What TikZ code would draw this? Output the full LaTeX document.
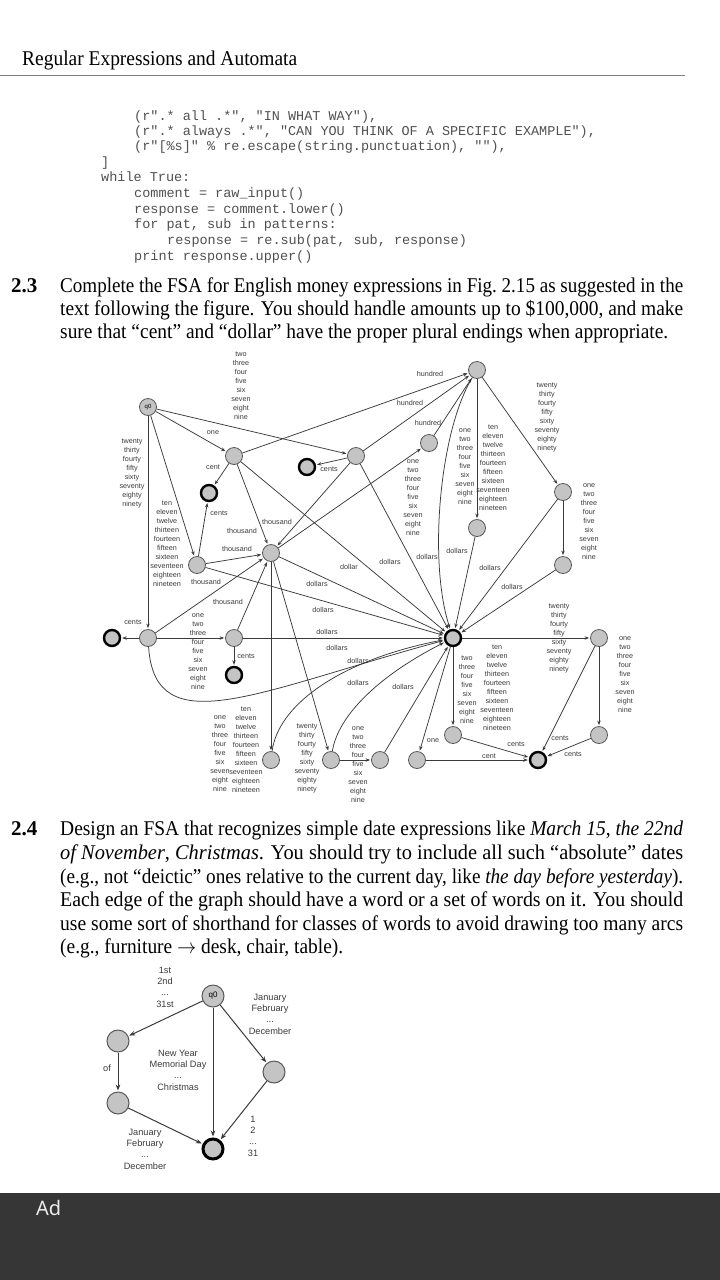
\documentclass[tikz,border=0pt]{standalone}
\usepackage{graphicx}
\usepackage{xcolor}
\usepackage{fontspec}
\setmainfont{Liberation Serif}
\setsansfont{Liberation Sans}
\setmonofont{Liberation Mono}
\newfontfamily\uifont{Noto Sans}
\usetikzlibrary{automata,positioning,arrows.meta}

\definecolor{ink}{HTML}{3A3A3A}
\definecolor{codegray}{HTML}{505050}
\definecolor{statefill}{HTML}{C4C4C4}
\definecolor{adbar}{HTML}{363636}

\newcommand{\onenine}{one\\two\\three\\four\\five\\six\\seven\\eight\\nine}
\newcommand{\twonine}{two\\three\\four\\five\\six\\seven\\eight\\nine}
\newcommand{\teens}{ten\\eleven\\twelve\\thirteen\\fourteen\\fifteen\\sixteen\\seventeen\\eighteen\\nineteen}
\newcommand{\tens}{twenty\\thirty\\fourty\\fifty\\sixty\\seventy\\eighty\\ninety}
\newcommand{\jline}[1]{\resizebox{623pt}{\height}{#1}}

\begin{document}
\begin{tikzpicture}[x=1pt,y=-1pt,shorten >=1pt,>={Stealth[length=4.5pt,width=3.4pt]}]
  \tikzstyle{every state}=[fill=statefill,draw=ink!85,line width=0.8pt,minimum size=17pt,inner sep=0pt,font=\sffamily\fontsize{6}{6}\selectfont]
  \tikzstyle{finalstate}=[state,draw=black,line width=2.4pt,minimum size=16pt]
  \tikzstyle{lbl}=[font=\sffamily\fontsize{7.2}{9}\selectfont,text=ink,align=center,inner sep=0pt]
  \tikzstyle{dstate}=[state,minimum size=22pt,line width=1pt,font=\sffamily\fontsize{8}{8}\selectfont]
  \tikzstyle{dfinal}=[dstate,draw=black,line width=3pt,minimum size=20pt]
  \tikzstyle{dlbl}=[font=\sffamily\fontsize{9.2}{11.4}\selectfont,text=ink,align=center,inner sep=0pt]
  \tikzstyle{para}=[anchor=base west,inner sep=0pt,font=\fontsize{21}{23}\selectfont]
  \tikzstyle{code}=[anchor=base west,inner sep=0pt,font=\ttfamily\fontsize{13.5}{15.7}\selectfont,text=codegray]
  \useasboundingbox (0,0) rectangle (720,1280);

  % page head and code
  \node[para] (head) at (22,65) {\resizebox{275pt}{\height}{Regular Expressions and Automata}};
  \draw[gray,line width=0.8pt] (0,75) -- (686,75);
  \node[code] (c1) at (134,120) {(r".* all .*", "IN WHAT WAY"),};
  \node[code] (c2) at (134,135) {(r".* always .*", "CAN YOU THINK OF A SPECIFIC EXAMPLE"),};
  \node[code] (c3) at (134,150) {(r"[\%s]" \% re.escape(string.punctuation), ""),};
  \node[code] (c4) at (101,166) {]};
  \node[code] (c5) at (101,181) {while True:};
  \node[code] (c6) at (134,197) {comment = raw\_input()};
  \node[code] (c7) at (134,213) {response = comment.lower()};
  \node[code] (c8) at (134,228) {for pat, sub in patterns:};
  \node[code] (c9) at (167,244) {response = re.sub(pat, sub, response)};
  \node[code] (c10) at (134,260) {print response.upper()};

  % exercise 2.3
  \node[para] (n23) at (11,292) {\textbf{2.3}};
  \node[para] (t1) at (60,292) {\jline{Complete the FSA for English money expressions in Fig.~2.15 as suggested in the}};
  \node[para] (t2) at (60,315) {\jline{text following the figure. You should handle amounts up to \$100,000, and make}};
  \node[para] (t3) at (60,338) {\resizebox{608pt}{\height}{sure that “cent” and “dollar” have the proper plural endings when appropriate.}};

  % money FSA
  \node[state] (q0) at (148,407) {q0};
  \node[state] (qa) at (234,456) {};
  \node[finalstate] (qac) at (209,493) {};
  \node[state] (qb) at (356,456) {};
  \node[finalstate] (qbc) at (307,467) {};
  \node[state] (qc) at (271,553) {};
  \node[state] (qd) at (197,565) {};
  \node[state] (qf) at (429,443) {};
  \node[state] (qh) at (477,370) {};
  \node[state] (qg) at (477,528) {};
  \node[state] (qi) at (563,492) {};
  \node[state] (qj) at (563,565) {};
  \node[finalstate] (qk) at (112,638) {};
  \node[state] (ql) at (148,638) {};
  \node[state] (qm) at (234,638) {};
  \node[finalstate] (qn) at (234,675) {};
  \node[state] (qo) at (271,760) {};
  \node[state] (qp) at (331,760) {};
  \node[state] (qq) at (380,760) {};
  \node[finalstate] (hub) at (453,638) {};
  \node[state] (qr) at (599,638) {};
  \node[state] (qs) at (453,735) {};
  \node[state] (qt) at (599,735) {};
  \node[state] (qu) at (417,760) {};
  \node[finalstate] (qw) at (538,760) {};

  \path[->,draw=ink,line width=0.75pt]
  (q0) edge (qa)
  (q0) edge (qb)
  (q0) edge (qd)
  (q0) edge (ql)
  (qa) edge (qac)
  (qa) edge (qh)
  (qa) edge (qc)
  (qa) edge (hub)
  (qb) edge (qbc)
  (qb) edge (qh)
  (qb) edge (qc)
  (qb) edge (hub)
  (qd) edge (qac)
  (qd) edge (qc)
  (qd) edge (hub)
  (qc) edge (qf)
  (qc) edge (hub)
  (qc) edge (qo)
  (qc) edge (qp)
  (qf) edge (qh)
  (qh) edge (qg)
  (qh) edge (qi)
  (qg) edge (hub)
  (qi) edge (qj)
  (qi) edge (hub)
  (qj) edge (hub)
  (ql) edge (qk)
  (ql) edge (qm)
  (ql) edge (qc)
  (qm) edge (qn)
  (qm) edge (qc)
  (qm) edge (hub)
  (qp) edge (qq)
  (qq) edge (hub)
  (hub) edge (qr)
  (hub) edge (qs)
  (hub) edge (qu)
  (qr) edge (qt)
  (qr) edge (qw)
  (qt) edge (qw)
  (qs) edge (qw)
  (qu) edge (qw)
  ;
  \draw[->,ink,line width=0.75pt] (qh) .. controls (440,430) and (428,560) .. (hub);
  \draw[->,ink,line width=0.75pt] (ql) .. controls (155,745) and (260,690) .. (hub);
  \draw[->,ink,line width=0.75pt] (qo) .. controls (278,705) and (340,660) .. (hub);
  \draw[->,ink,line width=0.75pt] (qp) .. controls (338,715) and (380,675) .. (hub);

  \node[lbl] (l-q0b) at (241,386) {\twonine};
  \node[lbl] (l-q0a) at (213,433) {one};
  \node[lbl] (l-q0d) at (167,544) {\teens};
  \node[lbl] (l-q0l) at (132,473) {\tens};
  \node[lbl] (l-aac) at (213,467) {cent};
  \node[lbl] (l-ah) at (430,374) {hundred};
  \node[lbl] (l-bh) at (410,403) {hundred};
  \node[lbl] (l-fh) at (428,423) {hundred};
  \node[lbl] (l-ac) at (242,531) {thousand};
  \node[lbl] (l-bc) at (277,522) {thousand};
  \node[lbl] (l-dc) at (237,549) {thousand};
  \node[lbl] (l-lc) at (206,582) {thousand};
  \node[lbl] (l-mc) at (228,602) {thousand};
  \node[lbl] (l-ahub) at (349,567) {dollar};
  \node[lbl] (l-bbc) at (329,469) {cents};
  \node[lbl] (l-bhub) at (390,562) {dollars};
  \node[lbl] (l-dac) at (219,513) {cents};
  \node[lbl] (l-dhub) at (323,610) {dollars};
  \node[lbl] (l-cf) at (413,498) {\onenine};
  \node[lbl] (l-chub) at (317,584) {dollars};
  \node[lbl] (l-hg1) at (465,467) {\onenine};
  \node[lbl] (l-hg2) at (493,468) {\teens};
  \node[lbl] (l-hhub) at (427,557) {dollars};
  \node[lbl] (l-ghub) at (457,551) {dollars};
  \node[lbl] (l-hi) at (547,417) {\tens};
  \node[lbl] (l-ij) at (589,522) {\onenine};
  \node[lbl] (l-ihub) at (490,568) {dollars};
  \node[lbl] (l-jhub) at (512,587) {dollars};
  \node[lbl] (l-lk) at (133,622) {cents};
  \node[lbl] (l-lm) at (198,652) {\onenine};
  \node[lbl] (l-lhub) at (337,648) {dollars};
  \node[lbl] (l-mn) at (246,656) {cents};
  \node[lbl] (l-mhub) at (327,632) {dollars};
  \node[lbl] (l-co1) at (220,754) {\onenine};
  \node[lbl] (l-co2) at (246,750) {\teens};
  \node[lbl] (l-cp) at (307,758) {\tens};
  \node[lbl] (l-pq) at (358,765) {\onenine};
  \node[lbl] (l-ohub) at (358,661) {dollars};
  \node[lbl] (l-phub) at (358,683) {dollars};
  \node[lbl] (l-qhub) at (403,687) {dollars};
  \node[lbl] (l-hubr) at (559,638) {\tens};
  \node[lbl] (l-hubs1) at (467,690) {\twonine};
  \node[lbl] (l-hubs2) at (497,688) {\teens};
  \node[lbl] (l-hubu) at (433,741) {one};
  \node[lbl] (l-rt) at (625,675) {\onenine};
  \node[lbl] (l-rw) at (560,738) {cents};
  \node[lbl] (l-tw) at (573,754) {cents};
  \node[lbl] (l-sw) at (516,744) {cents};
  \node[lbl] (l-uw) at (489,756) {cent};

  % exercise 2.4
  \node[para] (n24) at (11,835) {\textbf{2.4}};
  \node[para] (s1) at (60,835) {\jline{Design an FSA that recognizes simple date expressions like \textit{March 15}, \textit{the 22nd}}};
  \node[para] (s2) at (60,859) {\jline{\textit{of November}, \textit{Christmas}. You should try to include all such “absolute” dates}};
  \node[para] (s3) at (60,883) {\jline{(e.g., not “deictic” ones relative to the current day, like \textit{the day before yesterday}).}};
  \node[para] (s4) at (60,906) {\jline{Each edge of the graph should have a word or a set of words on it. You should}};
  \node[para] (s5) at (60,930) {\jline{use some sort of shorthand for classes of words to avoid drawing too many arcs}};
  \node[para] (s6) at (60,953) {\resizebox{283pt}{\height}{(e.g., furniture $\rightarrow$ desk, chair, table).}};

  % date FSA
  \node[dstate] (d0) at (213,996) {q0};
  \node[dstate] (d1) at (118,1041) {};
  \node[dstate] (d2) at (118,1103) {};
  \node[dstate] (d3) at (274,1072) {};
  \node[dfinal] (dF) at (213,1149) {};
  \path[-{Stealth[length=6pt,width=4.6pt]},draw=ink,line width=1pt]
  (d0) edge (d1)
  (d1) edge (d2)
  (d2) edge (dF)
  (d0) edge (dF)
  (d0) edge (d3)
  (d3) edge (dF)
  ;
  \node[dlbl] (m-d01) at (165,987) {1st\\2nd\\...\\31st};
  \node[dlbl] (m-d03) at (270,1014) {January\\February\\...\\December};
  \node[dlbl] (m-d12) at (107,1068) {of};
  \node[dlbl] (m-d0F) at (178,1070) {New Year\\Memorial Day\\...\\Christmas};
  \node[dlbl] (m-d2F) at (145,1149) {January\\February\\...\\December};
  \node[dlbl] (m-d3F) at (253,1136) {1\\2\\...\\31};

  % ad bar
  \fill[adbar] (0,1193) rectangle (720,1280);
  \node[anchor=base west,inner sep=0pt,text=white!92!black,font=\uifont\fontsize{20}{22}\selectfont] (ad) at (36,1215) {Ad};
\end{tikzpicture}
\end{document}
